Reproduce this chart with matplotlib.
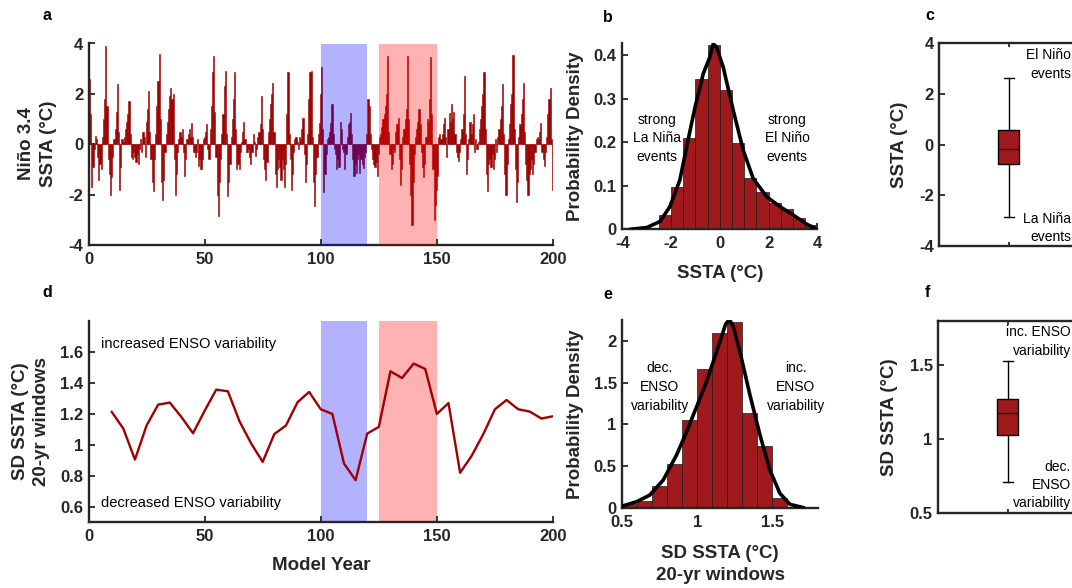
import numpy as np
import matplotlib
matplotlib.use("Agg")
import matplotlib.pyplot as plt

plt.rcParams['font.family'] = ['Liberation Sans', 'DejaVu Sans']
plt.rcParams['axes.unicode_minus'] = False

# ---------------- data ----------------
# Panel a: Nino 3.4 SSTA, half-year resolution, years 0-200 (two values per model year)
ssta_rows = [
    [2.6, 1.2, -1.7, -0.9, -0.2, 0.33, 0.2, -0.5, -1.4, -0.8, -1.0, 0.3, 1.0, 1.8, 3.9, 1.5, -0.6, -1.2, -2.0, -1.3],
    [-0.5, 0.2, 0.6, 1.3, 2.4, 0.5, -1.8, -0.9, 0.2, 0.1, 0.3, 0.6, 0.9, 1.2, 1.7, 0.4, -0.5, -0.6, -0.3, -0.5],
    [-0.7, -0.4, -0.8, -0.2, 0.2, -0.3, 0.5, 0.3, -0.5, 0.9, 1.4, 2.1, 0.5, -0.6, -1.5, -1.85, -0.6, 0.4, 1.5, 2.5],
    [3.6, 1.0, -1.5, -2.2, -1.4, -0.3, 0.4, 0.9, 1.4, 1.9, 2.25, 1.8, 2.0, -0.6, -2.0, -1.2, -0.3, 0.2, 0.5, 0.3],
    [0.6, -0.3, -1.25, -0.6, 0.2, 0.4, 0.6, 0.3, 0.85, 0.3, -0.3, -0.5, -0.3, 0.2, -0.85, -0.6, -1.0, -0.6, 0.2, 0.3],
    [0.5, 0.8, -0.2, -0.6, 0.6, 1.5, 2.85, 3.5, 1.3, -0.5, -2.0, -2.85, -1.5, -0.6, 0.4, 1.2, 2.3, 2.9, 0.4, -2.05],
    [-1.5, -0.8, 0.3, 1.0, 1.8, 2.85, 0.6, -1.0, -0.8, -1.0, -0.3, 0.1, 0.5, 0.9, 0.2, -0.3, -0.3, -0.2, -0.5, -0.8],
    [-0.3, 0.4, 0.1, -0.45, -0.2, 0.3, 0.5, 0.8, 1.9, 0.6, -0.6, -1.0, -1.4, -0.7, 0.5, 1.0, 1.6, 2.0, 2.45, 0.5],
    [-1.2, -1.7, -1.0, -0.6, -0.9, -1.4, -0.6, -1.0, -1.7, -0.8, 1.2, 2.85, 0.4, -0.6, -1.8, -1.2, -0.3, 0.2, 0.3, 0.1],
    [-0.2, 0.3, 0.2, 0.6, 1.05, -0.4, -1.5, -0.8, 0.4, 1.8, 2.85, 2.9, 0.3, -1.5, -2.45, -1.2, -0.5, 0.4, 0.85, 2.0],
    [3.05, 0.6, -1.9, -1.2, -0.4, 0.2, 0.3, 0.5, 0.85, 1.6, 0.4, -0.2, -0.4, -1.0, -0.6, -0.9, 0.9, 0.6, -0.2, -0.3],
    [-1.0, -0.4, 0.3, 0.8, 0.9, 1.25, 0.4, -0.6, -1.25, -0.8, -1.15, -0.6, -0.4, -1.15, -0.6, -0.8, -0.95, -0.5, -0.3, 0.4],
    [1.8, 1.5, 0.4, -0.2, -0.6, -0.8, -0.9, -0.7, -1.25, -0.4, 0.3, 0.4, 0.7, 1.0, 1.2, 1.5, 2.0, 3.5, 0.5, -0.4],
    [-1.0, -0.8, -0.2, -0.3, 0.5, 0.8, 1.05, -0.6, -1.6, -1.0, 0.3, 0.6, 1.0, 1.4, 3.5, 1.0, -0.8, -2.0, -3.2, -1.5],
    [-0.4, 0.3, 0.6, 0.9, 1.4, 0.8, -0.3, -0.9, -1.3, -0.8, 0.3, 1.0, 0.9, 1.8, 3.45, 1.2, -1.0, -3.0, -2.4, -1.8],
    [-1.25, 0.3, 0.4, 0.2, 0.4, 0.8, 1.05, 0.3, -0.5, 0.6, 1.25, 0.9, 1.6, 1.0, 1.3, 0.4, -0.3, -0.5, -0.65, -0.3],
    [0.2, 0.6, 1.2, 2.7, 0.4, -1.2, -0.6, 0.2, 0.9, 0.4, 0.8, 1.2, -0.3, 0.2, -0.2, 0.1, 0.6, 1.0, 1.5, 2.0],
    [2.85, 0.6, -1.2, -1.85, -0.8, -0.6, -0.9, -0.4, -1.0, -0.6, 0.2, -0.3, 0.3, 0.6, 1.0, 1.5, 2.4, 0.4, -1.2, -2.0],
    [-0.8, 0.2, 0.8, 1.6, 2.0, 3.55, 0.6, -1.0, -2.3, -1.5, 0.3, 0.8, 1.2, 1.8, 2.45, 0.5, -0.8, -1.4, -2.0, -1.2],
    [-1.0, -0.6, -1.2, -0.8, -0.3, 0.2, 0.3, 0.2, 0.5, 0.85, -0.3, -0.6, -0.85, -0.3, 0.3, 1.2, 1.8, 2.25, 0.2, -1.8],
]
ssta_step = 0.5  # years per value
low_period = (100, 120)
high_period = (125, 150)

# Panel b: histogram of SSTA (bin edges and densities) + kernel density
b_bin_left = [-2.5, -2.0, -1.5, -1.0, -0.5, 0.0, 0.5, 1.0, 1.5, 2.0, 2.5, 3.0, 3.5]
b_density = [0.034, 0.098, 0.209, 0.346, 0.424, 0.321, 0.199, 0.117, 0.086, 0.061, 0.046, 0.025, 0.010]
b_bin_width = 0.5
b_kde_x = [-3.68, -3.0, -2.45, -2.05, -1.64, -1.36, -1.02, -0.68, -0.41, -0.27, -0.13, 0.14, 0.55, 0.96, 1.37, 1.92, 2.47, 3.01, 3.56, 4.0]
b_kde_y = [0.0, 0.004, 0.018, 0.052, 0.113, 0.19, 0.28, 0.358, 0.396, 0.427, 0.419, 0.373, 0.274, 0.182, 0.117, 0.075, 0.052, 0.033, 0.012, 0.0]

# Panel c: boxplot of SSTA
c_stats = dict(whislo=-2.84, q1=-0.78, med=-0.17, q3=0.58, whishi=2.62)

# Panel d: SD of SSTA in 20-yr windows
d_years = [10, 15, 20, 25, 30, 35, 40, 45, 50, 55, 60, 65, 70, 75, 80, 85, 90, 95, 100,
           105, 110, 115, 120, 125, 130, 135, 140, 145, 150, 155, 160, 165, 170, 175, 180,
           185, 190, 195, 200]
d_sd = [1.213, 1.105, 0.905, 1.125, 1.26, 1.273, 1.18, 1.075, 1.22, 1.357, 1.346, 1.153,
        1.01, 0.89, 1.07, 1.125, 1.275, 1.342, 1.23, 1.2, 0.88, 0.772, 1.073, 1.116, 1.475,
        1.432, 1.525, 1.49, 1.2, 1.27, 0.82, 0.93, 1.07, 1.23, 1.29, 1.23, 1.215, 1.17, 1.185]

# Panel e: histogram of SD + kernel density
e_bin_left = [0.5, 0.6, 0.7, 0.8, 0.9, 1.0, 1.1, 1.2, 1.3, 1.4, 1.5]
e_density = [0.05, 0.08, 0.26, 0.52, 1.05, 1.66, 2.10, 2.23, 1.14, 0.74, 0.12]
e_bin_width = 0.1
e_kde_x = [0.5, 0.596, 0.684, 0.773, 0.862, 0.929, 0.996, 1.062, 1.129, 1.173, 1.189, 1.207, 1.222, 1.24, 1.284, 1.351, 1.418, 1.484, 1.551, 1.618, 1.71]
e_kde_y = [0.02, 0.072, 0.152, 0.332, 0.632, 0.912, 1.212, 1.512, 1.872, 2.112, 2.2, 2.24, 2.232, 2.17, 1.872, 1.352, 0.872, 0.452, 0.172, 0.04, 0.0]

# Panel f: boxplot of SD
f_stats = dict(whislo=0.71, q1=1.027, med=1.176, q3=1.27, whishi=1.527)

# ---------------- style ----------------
W, H = 1072, 588
TS_COL = '#9B0000'
HIST_COL = '#A0191C'
SPINE = '#262626'
TICK_FS = 12
LAB_FS = 13.5
ANN_FS = 10

fig = plt.figure(figsize=(W / 100, H / 100), dpi=100)


def add_ax(left, top, right, bottom):
    return fig.add_axes([left / W, 1 - bottom / H, (right - left) / W, (bottom - top) / H])


def style(ax, box=False):
    for s in ['left', 'bottom', 'top', 'right']:
        ax.spines[s].set_color(SPINE)
        ax.spines[s].set_linewidth(1.7)
    if not box:
        ax.spines['top'].set_visible(False)
        ax.spines['right'].set_visible(False)
    ax.tick_params(direction='in', length=4, width=1.3, colors=SPINE,
                   labelsize=TICK_FS, labelcolor='#262626')
    ax.tick_params(axis='x', pad=5)
    ax.tick_params(axis='y', pad=4)
    for lbl in ax.get_xticklabels() + ax.get_yticklabels():
        lbl.set_fontweight('bold')


def figtext(xp, yp, s, **kw):
    fig.text(xp / W, 1 - yp / H, s, **kw)


# ---- panel a ----
ax_a = add_ax(89, 43.5, 553, 245)
ssta = np.concatenate([np.array(r) for r in ssta_rows])
t = np.arange(len(ssta)) * ssta_step
ax_a.bar(t, ssta, width=ssta_step, align='edge', color=TS_COL, edgecolor=TS_COL, linewidth=0.4, zorder=2)
ax_a.axvspan(*low_period, color='blue', alpha=0.3, lw=0, zorder=3)
ax_a.axvspan(*high_period, color='red', alpha=0.3, lw=0, zorder=3)
ax_a.set_xlim(0, 200)
ax_a.set_ylim(-4, 4)
ax_a.set_xticks([0, 50, 100, 150, 200])
ax_a.set_yticks([-4, -2, 0, 2, 4])
style(ax_a)

# ---- panel b ----
ax_b = add_ax(622.3, 43.3, 817.3, 229.3)
ax_b.bar(b_bin_left, b_density, width=b_bin_width, align='edge', color=HIST_COL,
         edgecolor='#1a1a1a', linewidth=0.5, zorder=2)
ax_b.plot(b_kde_x, b_kde_y, color='black', lw=2.6, zorder=3, solid_capstyle='round')
ax_b.set_xlim(-4, 4)
ax_b.set_ylim(0, 0.428)
ax_b.set_xticks([-4, -2, 0, 2, 4])
ax_b.set_yticks([0, 0.1, 0.2, 0.3, 0.4])
ax_b.set_yticklabels(['0', '0.1', '0.2', '0.3', '0.4'])
style(ax_b)
ax_b.text(-2.57, 0.209, 'strong\nLa Niña\nevents', ha='center', va='center',
          fontsize=ANN_FS, linespacing=1.45, zorder=4)
ax_b.text(2.76, 0.209, 'strong\nEl Niño\nevents', ha='center', va='center',
          fontsize=ANN_FS, linespacing=1.45, zorder=4)

# ---- panel c ----
ax_c = add_ax(939.3, 43.3, 1078.3, 246)
ax_c.bxp([dict(c_stats, fliers=[])], positions=[1], widths=0.15, patch_artist=True,
         showfliers=False,
         boxprops=dict(facecolor=HIST_COL, edgecolor='black', linewidth=1.0),
         medianprops=dict(color='#300000', linewidth=1.0),
         whiskerprops=dict(color='black', linewidth=1.0),
         capprops=dict(color='black', linewidth=1.0))
ax_c.set_xlim(0.5, 1.5)
ax_c.set_ylim(-4, 4)
ax_c.set_yticks([-4, -2, 0, 2, 4])
ax_c.set_xticks([1])
ax_c.set_xticklabels([''])
style(ax_c, box=True)
ax_c.tick_params(axis='x', top=True, length=3)
ax_c.text(1.4475, 3.16, 'El Niño\nevents', ha='right', va='center', fontsize=ANN_FS, linespacing=1.4)
ax_c.text(1.4475, -3.28, 'La Niña\nevents', ha='right', va='center', fontsize=ANN_FS, linespacing=1.4)

# ---- panel d ----
ax_d = add_ax(88.5, 321, 553, 522.3)
ax_d.axvspan(*low_period, color='blue', alpha=0.3, lw=0, zorder=1)
ax_d.axvspan(*high_period, color='red', alpha=0.3, lw=0, zorder=1)
ax_d.plot(d_years, d_sd, color='#A00000', lw=1.7, zorder=3)
ax_d.set_xlim(0, 200)
ax_d.set_ylim(0.5, 1.8)
ax_d.set_xticks([0, 50, 100, 150, 200])
ax_d.set_yticks([0.6, 0.8, 1.0, 1.2, 1.4, 1.6])
ax_d.set_yticklabels(['0.6', '0.8', '1', '1.2', '1.4', '1.6'])
style(ax_d)
ax_d.text(5.5, 1.654, 'increased ENSO variability', ha='left', va='center', fontsize=10.5)
ax_d.text(5.5, 0.622, 'decreased ENSO variability', ha='left', va='center', fontsize=10.5)

# ---- panel e ----
ax_e = add_ax(622.3, 320, 818.3, 507.7)
ax_e.bar(e_bin_left, e_density, width=e_bin_width, align='edge', color=HIST_COL,
         edgecolor='#1a1a1a', linewidth=0.5, zorder=2)
ax_e.plot(e_kde_x, e_kde_y, color='black', lw=2.6, zorder=3, solid_capstyle='round')
ax_e.set_xlim(0.5, 1.807)
ax_e.set_ylim(0, 2.25)
ax_e.set_xticks([0.5, 1.0, 1.5])
ax_e.set_xticklabels(['0.5', '1', '1.5'])
ax_e.set_yticks([0, 0.5, 1.0, 1.5, 2.0])
ax_e.set_yticklabels(['0', '0.5', '1', '1.5', '2'])
style(ax_e)
ax_e.text(0.751, 1.452, 'dec.\nENSO\nvariability', ha='center', va='center',
          fontsize=ANN_FS, linespacing=1.45, zorder=4)
ax_e.text(1.658, 1.452, 'inc.\nENSO\nvariability', ha='center', va='center',
          fontsize=ANN_FS, linespacing=1.45, zorder=4)

# ---- panel f ----
ax_f = add_ax(938.3, 321, 1077.3, 512.7)
ax_f.bxp([dict(f_stats, fliers=[])], positions=[1], widths=0.15, patch_artist=True,
         showfliers=False,
         boxprops=dict(facecolor=HIST_COL, edgecolor='black', linewidth=1.0),
         medianprops=dict(color='#300000', linewidth=1.0),
         whiskerprops=dict(color='black', linewidth=1.0),
         capprops=dict(color='black', linewidth=1.0))
ax_f.set_xlim(0.5, 1.5)
ax_f.set_ylim(0.5, 1.8)
ax_f.set_yticks([0.5, 1.0, 1.5])
ax_f.set_yticklabels(['0.5', '1', '1.5'])
ax_f.set_xticks([1])
ax_f.set_xticklabels([''])
style(ax_f, box=True)
ax_f.tick_params(axis='x', top=True, length=3)
ax_f.text(1.455, 1.662, 'inc. ENSO\nvariability', ha='right', va='center', fontsize=ANN_FS, linespacing=1.4)
ax_f.text(1.455, 0.688, 'dec.\nENSO\nvariability', ha='right', va='center', fontsize=ANN_FS, linespacing=1.4)

# ---- axis labels (figure pixel positions) ----
lab = dict(fontsize=LAB_FS, fontweight='bold', color='#262626', ha='center', va='center',
           multialignment='center')
figtext(37.5, 144, 'Niño 3.4\nSSTA (°C)', rotation=90, linespacing=1.35, **lab)
figtext(576, 136, 'Probability Density', rotation=90, **lab)
figtext(899, 145, 'SSTA (°C)', rotation=90, **lab)
figtext(720, 273, 'SSTA (°C)', **lab)
figtext(31, 421.5, 'SD SSTA (°C)\n20-yr windows', rotation=90, linespacing=1.25, **lab)
figtext(321, 565, 'Model Year', **lab)
figtext(576, 414, 'Probability Density', rotation=90, **lab)
figtext(720, 564.5, 'SD SSTA (°C)\n20-yr windows', linespacing=1.4, **lab)
figtext(890, 417, 'SD SSTA (°C)', rotation=90, **lab)

# panel letters
for s, xp, yp in [('a', 47, 16), ('b', 608, 18), ('c', 930, 16),
                  ('d', 47, 293), ('e', 608, 295), ('f', 927, 293)]:
    figtext(xp, yp, s, fontsize=11.5, fontweight='bold', ha='center', va='center', color='black')

fig.savefig('out.png', dpi=100)
